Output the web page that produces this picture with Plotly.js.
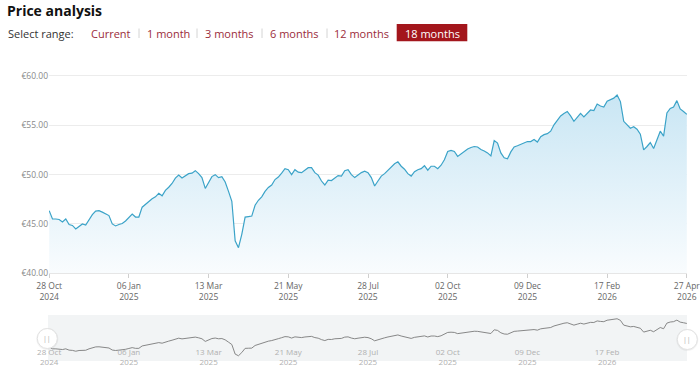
<!DOCTYPE html>
<html><head><meta charset="utf-8">
<script src="https://cdn.plot.ly/plotly-3.0.1.min.js"></script>
<style>html,body{margin:0;padding:0;background:#fff}#chart{width:700px;height:370px}</style>
</head><body><div id="chart"></div>
<script>
// ---- data ----
const tickLabels = ['28 Oct<br>2024','06 Jan<br>2025','13 Mar<br>2025','21 May<br>2025','28 Jul<br>2025','02 Oct<br>2025','09 Dec<br>2025','17 Feb<br>2026','27 Apr<br>2026'];
const navTickLabels = ['28 Oct<br>2024','06 Jan<br>2025','13 Mar<br>2025','21 May<br>2025','28 Jul<br>2025','02 Oct<br>2025','09 Dec<br>2025','17 Feb<br>2026'];
const yTickValues = [40, 45, 50, 55, 60];
const yTickLabels = ['€40.00','€45.00','€50.00','€55.00','€60.00'];
const rangeOptions = ['Current','1 month','3 months','6 months','12 months','18 months'];
const activeRange = '18 months';
const priceValues = [
46.35,45.5,45.5,45.45,45.2,45.5,44.95,44.85,44.5,44.8,
45.0,44.9,45.5,45.95,46.3,46.35,46.2,46.0,45.85,45.0,
44.8,44.95,45.05,45.3,45.65,46.0,45.7,45.7,46.7,47.0,
47.35,47.55,47.75,48.1,47.85,48.4,48.72,49.1,49.65,49.95,
49.65,49.85,50.1,50.15,50.4,50.1,49.7,48.6,49.15,49.8,
50.0,49.7,49.8,49.25,48.3,47.3,43.3,42.6,43.95,45.7,
45.75,45.8,46.9,47.4,47.75,48.3,48.7,48.95,49.5,49.75,
50.15,50.6,50.5,50.0,50.5,50.25,50.2,50.45,50.7,50.7,
50.2,49.95,49.35,48.95,49.45,49.4,49.7,49.9,49.85,50.4,
50.5,50.0,49.7,49.95,50.2,50.35,50.2,49.7,48.85,49.35,
49.85,50.1,50.45,50.75,51.1,51.3,50.85,50.55,50.1,49.85,
50.3,50.5,50.6,50.9,50.45,50.85,50.85,50.6,50.95,51.5,
52.35,52.45,52.35,51.85,52.1,52.4,52.6,52.75,52.85,52.8,
52.55,52.4,52.2,51.9,53.45,53.2,52.2,51.7,51.6,52.3,
52.8,52.92,53.05,53.15,53.35,53.35,53.55,53.3,53.85,54.05,
54.15,54.4,55.05,55.5,55.95,56.2,56.4,55.95,55.4,55.8,
56.2,55.85,56.15,56.55,56.5,57.15,56.95,56.85,57.45,57.6,
57.75,58.07,57.4,55.4,55.05,54.7,54.85,54.6,54.1,52.5,
52.85,53.25,52.65,53.6,54.4,53.9,56.25,56.7,56.85,57.5,
56.65,56.4,56.1
];

// ---- helpers (layout only) ----
const W = 700, H = 370;
const px = v => v / W;
const py = v => 1 - v / H;
const idx = priceValues.map((_, i) => i);
const last = priceValues.length - 1;
const tickStep = last / (tickLabels.length - 1);
const tickVals = tickLabels.map((_, k) => k * tickStep);
const navTickVals = navTickLabels.map((_, k) => k * tickStep);
const FONT = 'Open Sans, sans-serif';

const mainTrace = {
  x: idx, y: priceValues, type: 'scatter', mode: 'lines',
  line: {color: '#3ba3c8', width: 1.2},
  fill: 'tozeroy',
  fillgradient: {type: 'vertical', start: 40, stop: 58.1,
    colorscale: [[0, '#f9fcfe'], [1, '#c9e6f4']]},
  xaxis: 'x', yaxis: 'y', hoverinfo: 'skip'
};
const navTrace = {
  x: idx, y: priceValues, type: 'scatter', mode: 'lines',
  line: {color: '#7a7a7a', width: 0.9},
  xaxis: 'x2', yaxis: 'y2', hoverinfo: 'skip'
};

// buttons
const btnCenters = [110.7, 168.3, 229.5, 294.5, 361.5, 432];
const sepX = [139, 197, 262, 327];
const annotations = [
  {text: '<b>Price analysis</b>', x: px(5), y: py(10.5), xref: 'paper', yref: 'paper',
   xanchor: 'left', yanchor: 'middle', showarrow: false, font: {family: FONT, size: 14, color: '#111'}},
  {text: 'Select range:', x: px(6), y: py(33.3), xref: 'paper', yref: 'paper',
   xanchor: 'left', yanchor: 'middle', showarrow: false, font: {family: FONT, size: 11, color: '#333'}}
];
rangeOptions.forEach((r, i) => {
  annotations.push({text: r, x: px(btnCenters[i]), y: py(33.3), xref: 'paper', yref: 'paper',
    xanchor: 'center', yanchor: 'middle', showarrow: false,
    font: {family: FONT, size: 11, color: r === activeRange ? '#ffffff' : '#9b2c3a'}});
});
// handle grips
[[47.3, 338.5], [687.3, 339.5]].forEach(([hx, hy]) => {
  annotations.push({text: '||', x: px(hx), y: py(hy), xref: 'paper', yref: 'paper',
    xanchor: 'center', yanchor: 'middle', showarrow: false, font: {family: FONT, size: 7, color: '#aaa'}});
});

const shapes = [
  // active button bg
  {type: 'rect', xref: 'paper', yref: 'paper', x0: px(396.7), x1: px(467.3), y0: py(41.3), y1: py(24),
   fillcolor: '#a3161c', line: {width: 0}},
  // navigator background
  {type: 'rect', xref: 'paper', yref: 'paper', x0: px(48), x1: px(687), y0: py(361), y1: py(315),
   fillcolor: '#f2f4f5', line: {width: 0}, layer: 'below'}
];
sepX.forEach(sx => shapes.push({type: 'line', xref: 'paper', yref: 'paper', x0: px(sx), x1: px(sx),
  y0: py(38), y1: py(28.5), line: {color: '#d4d4d4', width: 1}}));
[[47.3, 338.5], [687.3, 339.5]].forEach(([hx, hy]) => {
  shapes.push({type: 'circle', xref: 'paper', yref: 'paper', x0: px(hx - 11), x1: px(hx + 11),
    y0: py(hy + 11.5), y1: py(hy - 10.5), fillcolor: 'rgba(0,0,0,0.05)', line: {width: 0}});
  shapes.push({type: 'circle', xref: 'paper', yref: 'paper', x0: px(hx - 10), x1: px(hx + 10),
    y0: py(hy + 10), y1: py(hy - 10), fillcolor: '#ffffff', line: {color: '#e2e2e2', width: 1}});
});

const layout = {
  width: W, height: H, margin: {l: 0, r: 0, t: 0, b: 0},
  paper_bgcolor: '#fff', plot_bgcolor: 'rgba(0,0,0,0)',
  showlegend: false, hovermode: false,
  font: {family: FONT},
  xaxis: {domain: [px(49), px(687)], range: [-0.05, last + 0.05], tickvals: tickVals, ticktext: tickLabels,
    ticks: 'outside', ticklen: 4, tickcolor: '#cfcfcf', showline: true, linecolor: '#e6e6e6',
    showgrid: false, zeroline: false, tickfont: {family: FONT, size: 8.5, color: '#666'}, anchor: 'y',
    ticklabeloverflow: 'allow'},
  yaxis: {domain: [py(273.3), py(71)], range: [40, 60.5], tickvals: yTickValues, ticktext: yTickLabels,
    showgrid: true, gridcolor: '#ececec', zeroline: false, ticks: '', showline: false,
    tickfont: {family: FONT, size: 8.5, color: '#888'}, anchor: 'x'},
  xaxis2: {domain: [px(49), px(687)], range: [-0.05, last + 0.05], tickvals: navTickVals, ticktext: navTickLabels,
    anchor: 'free', position: py(345.5), ticks: '', showline: false, showgrid: false, zeroline: false,
    tickfont: {family: FONT, size: 8, color: '#b0b0b0'}},
  yaxis2: {domain: [py(357.2), py(317)], range: [42, 58.8], visible: false, anchor: 'x2'},
  annotations: annotations,
  shapes: shapes
};

Plotly.newPlot('chart', [mainTrace, navTrace], layout, {displayModeBar: false, staticPlot: true});
</script>
</body></html>
